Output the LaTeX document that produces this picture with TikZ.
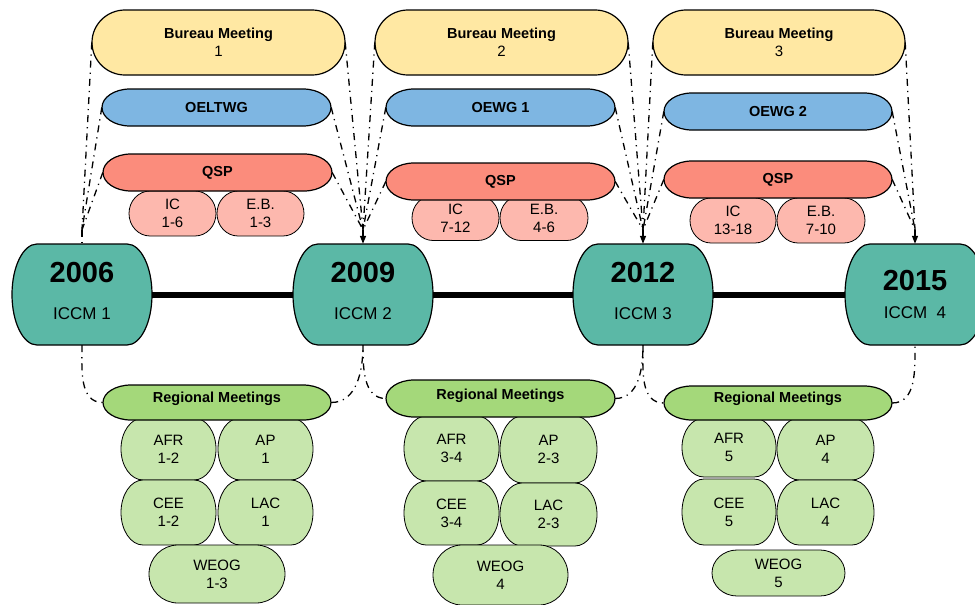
\documentclass[tikz,border=0pt]{standalone}
\usepackage{fontspec}
\setmainfont{Liberation Sans}
\usetikzlibrary{arrows.meta,calc}
\definecolor{bureaufill}{HTML}{FFE8A3}
\definecolor{wgfill}{HTML}{7EB6E2}
\definecolor{qspfill}{HTML}{FB8C7C}
\definecolor{subfill}{HTML}{FDB8AE}
\definecolor{iccmfill}{HTML}{5BB8A6}
\definecolor{regionfill}{HTML}{A4D87A}
\definecolor{groupfill}{HTML}{C7E6AD}
\tikzset{
    shape-line/.style = {draw=black, line width=1.2pt},
    bureau-pill/.style = {shape-line, fill=bureaufill},
    wg-pill/.style = {shape-line, fill=wgfill},
    qsp-pill/.style = {shape-line, fill=qspfill},
    sub-pill/.style = {draw=black, line width=0.8pt, fill=subfill},
    iccm-pill/.style = {shape-line, fill=iccmfill},
    region-pill/.style = {shape-line, fill=regionfill},
    group-pill/.style = {draw=black, line width=0.8pt, fill=groupfill},
    pill-text/.style = {align=center, inner sep=0pt, font=\fontsize{15}{18}\selectfont},
    link/.style = {line width=1.3pt, dash pattern=on 7pt off 5pt on 1.2pt off 5pt},
    link-to/.style = {link, -{Triangle[width=6pt,length=8pt]}},
    timeline/.style = {line width=6pt},
}
\newcommand{\pilltitle}[1]{{\bfseries\fontsize{14.5}{18}\selectfont #1}}
\newcommand{\yeartext}[1]{{\bfseries\fontsize{29}{30}\selectfont #1}}
\newcommand{\iccmtext}[1]{{\fontsize{17}{18}\selectfont #1}}
\newcommand{\pill}[9]{%
  \draw[#1] ({#3-#5/2+#7},{#4+#6/2}) -- ({#3+#5/2-#7},{#4+#6/2})
    arc[start angle=90, end angle=-90, x radius=#7, y radius=#6/2]
    -- ({#3-#5/2+#7},{#4-#6/2})
    arc[start angle=270, end angle=90, x radius=#7, y radius=#6/2] -- cycle;
  \node[pill-text, minimum width=#5pt, minimum height=#6pt, #8] (#2) at (#3,#4) {#9};
}

\begin{document}
\begin{tikzpicture}[x=1pt, y=1pt]
\useasboundingbox (0,0) rectangle (975,-605);

\pill{bureau-pill}{bm1}{218.5}{-42.5}{253}{65}{33}{}{\pilltitle{Bureau Meeting}\\1}
\pill{wg-pill}{wg1}{216.5}{-107.5}{229}{37}{28}{}{\pilltitle{OELTWG}}
\pill{sub-pill}{ic1}{172.5}{-213.5}{87}{45}{21}{}{IC\\1-6}
\pill{sub-pill}{eb1}{260.5}{-213.5}{87}{45}{21}{}{E.B.\\1-3}
\pill{qsp-pill}{qsp1}{217.5}{-172.5}{229}{37}{28}{}{\pilltitle{QSP}}
\pill{group-pill}{afr1}{168.5}{-449}{95}{62}{22}{}{AFR\\1-2}
\pill{group-pill}{ap1}{265.5}{-449}{95}{62}{22}{}{AP\\1}
\pill{group-pill}{cee1}{168.5}{-512.5}{95}{65}{22}{}{CEE\\1-2}
\pill{group-pill}{lac1}{265.5}{-512.5}{95}{65}{22}{}{LAC\\1}
\pill{group-pill}{weog1}{217}{-574}{136}{58}{29}{}{WEOG\\1-3}
\pill{region-pill}{rm1}{217}{-402.5}{228}{35}{28}{text depth=11pt}{\pilltitle{Regional Meetings}}

\pill{bureau-pill}{bm2}{501.5}{-42.5}{253}{65}{33}{}{\pilltitle{Bureau Meeting}\\2}
\pill{wg-pill}{wg2}{500.5}{-107.5}{229}{37}{28}{}{\pilltitle{OEWG 1}}
\pill{sub-pill}{ic2}{455.5}{-218}{87}{45}{21}{}{IC\\7-12}
\pill{sub-pill}{eb2}{544}{-218}{88}{45}{21}{}{E.B.\\4-6}
\pill{qsp-pill}{qsp2}{500.5}{-181.5}{229}{37}{28}{}{\pilltitle{QSP}}
\pill{group-pill}{afr2}{451.5}{-448.5}{95}{65}{22}{}{AFR\\3-4}
\pill{group-pill}{ap2}{548.5}{-449.5}{97}{67}{22}{}{AP\\2-3}
\pill{group-pill}{cee2}{451.5}{-513}{95}{64}{22}{}{CEE\\3-4}
\pill{group-pill}{lac2}{548.5}{-514.5}{97}{63}{22}{}{LAC\\2-3}
\pill{group-pill}{weog2}{500.5}{-575}{135}{60}{29}{}{WEOG\\4}
\pill{region-pill}{rm2}{500.5}{-398.5}{229}{37}{28}{text depth=9pt}{\pilltitle{Regional Meetings}}

\pill{bureau-pill}{bm3}{779}{-42.5}{252}{65}{33}{}{\pilltitle{Bureau Meeting}\\3}
\pill{wg-pill}{wg3}{778}{-111.5}{228}{37}{28}{}{\pilltitle{OEWG 2}}
\pill{sub-pill}{ic3}{733}{-220.5}{86}{45}{21}{}{IC\\13-18}
\pill{sub-pill}{eb3}{821}{-220.5}{88}{45}{21}{}{E.B.\\7-10}
\pill{qsp-pill}{qsp3}{778}{-179.5}{228}{37}{28}{}{\pilltitle{QSP}}
\pill{group-pill}{afr3}{729}{-447.5}{94}{59}{22}{}{AFR\\5}
\pill{group-pill}{ap3}{825.5}{-449}{97}{62}{22}{}{AP\\4}
\pill{group-pill}{cee3}{729}{-512}{94}{66}{22}{}{CEE\\5}
\pill{group-pill}{lac3}{825.5}{-512.5}{97}{65}{22}{}{LAC\\4}
\pill{group-pill}{weog3}{778.5}{-573}{133}{46}{25}{}{WEOG\\5}
\pill{region-pill}{rm3}{778}{-403}{228}{34}{28}{text depth=11pt}{\pilltitle{Regional Meetings}}

\foreach \k/\x/\yr in {1/82/2006, 2/363/2009, 3/643/2012}{
  \pill{iccm-pill}{iccm\k}{\x}{-294.5}{140}{101}{25}{text depth=8pt}{\yeartext{\yr}\\[19pt]\iccmtext{ICCM \k}}
}
\pill{iccm-pill}{iccm4}{915}{-294.5}{140}{101}{25}{text depth=1pt}{\yeartext{2015}\\[10pt]\iccmtext{ICCM\ \ 4}}

\foreach \k in {1,2,3,4}
  \coordinate (top\k) at ($(iccm\k.north)+(0,14)$);

\foreach \k/\n in {1/2, 2/3, 3/4}{
  \foreach \item in {bm, wg, qsp}{
    \draw[link] (\item\k.west) -- (top\k);
    \draw[link] (\item\k.east) -- (top\n);
  }
  \draw[link] (iccm\k.south) to[out=-90, in=180] (rm\k.west);
  \draw[link] (rm\k.east) to[out=0, in=-90] (iccm\n.south);
  \draw[timeline] (iccm\k.east) -- (iccm\n.west);
}
\draw[link] (top1) -- (iccm1.north);
\foreach \k in {2,3,4}
  \draw[link-to] (top\k) -- (iccm\k.north);
\end{tikzpicture}
\end{document}
